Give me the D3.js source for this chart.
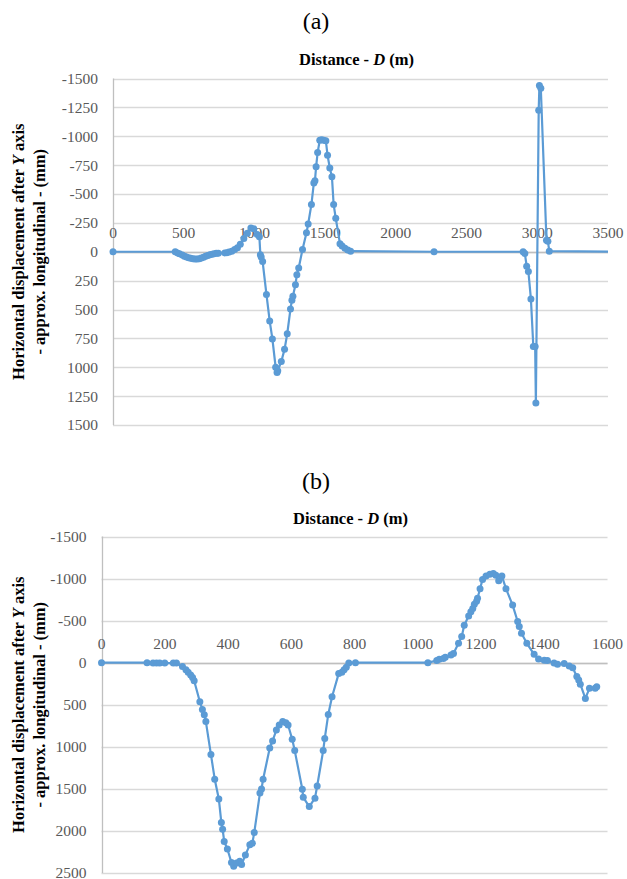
<!DOCTYPE html>
<html>
<head>
<meta charset="utf-8">
<script src="https://cdn.jsdelivr.net/npm/d3@7/dist/d3.min.js"></script>
<style>
  html, body { margin: 0; padding: 0; background: #ffffff; }
  svg { display: block; }
</style>
</head>
<body>
<script>
// ---------- DATA ----------
// Chart (a)
const aDistance = [0,440,455,470,490,505,520,535,550,565,580,595,610,625,640,655,670,685,700,715,730,745,
  790,805,820,840,860,880,900,925,950,975,995,1020,1035,1042,1048,1058,1085,1108,1127,1150,1160,1165,
  1190,1213,1232,1255,1265,1272,1290,1300,1313,1340,1368,1380,1403,1420,1428,1436,1447,1462,1475,1490,
  1505,1517,1533,1548,1560,1575,1605,1620,1640,1660,1680,2270,2900,2912,2925,2937,2955,2972,2985,2990,
  3010,3015,3025,3065,3075,3085,3520];
const aDisplacement = [0,0,10,18,28,38,45,52,57,60,62,62,60,55,48,40,33,27,22,18,14,12,
  10,8,3,-5,-20,-35,-65,-115,-160,-205,-200,-150,-130,25,45,85,370,600,755,1000,1045,1030,
  950,845,710,495,420,385,285,200,140,-20,-165,-240,-410,-595,-615,-735,-860,-965,-970,-965,
  -962,-835,-725,-650,-410,-290,-70,-50,-30,-15,-5,0,0,15,125,170,410,820,820,1310,
  -1225,-1440,-1415,-100,-90,-5,0];
const aXTicks = [0,500,1000,1500,2000,2500,3000,3500];
const aYTicks = [-1500,-1250,-1000,-750,-500,-250,0,250,500,750,1000,1250,1500];

// Chart (b)
const bDistance = [0,144,163,174,184,200,227,237,256,267,274,282,288,293,311,319,325,330,346,358,371,379,
  383,388,398,411,418,427,437,443,455,469,477,483,501,506,511,532,541,553,562,573,583,590,603,611,635,
  638,657,675,682,701,706,717,729,750,760,767,774,782,803,1032,1060,1068,1081,1087,1105,1113,1129,1139,
  1147,1161,1168,1174,1179,1186,1189,1197,1205,1216,1228,1239,1247,1256,1266,1279,1300,1316,1321,1328,
  1345,1368,1382,1400,1410,1431,1442,1463,1479,1490,1503,1509,1514,1530,1543,1561,1566];
const bDisplacement = [0,0,5,5,5,5,5,5,45,85,115,145,175,215,465,555,620,700,1090,1385,1620,1900,
  1980,2125,2215,2375,2420,2380,2360,2400,2285,2165,2145,2020,1550,1500,1385,1015,930,800,740,700,715,
  740,910,1045,1505,1600,1710,1610,1465,1045,900,615,405,130,115,85,55,5,0,0,-25,-40,-50,-65,-90,-110,
  -230,-310,-445,-555,-605,-645,-695,-730,-765,-880,-990,-1030,-1050,-1060,-1040,-975,-1030,-880,-685,
  -490,-430,-350,-230,-100,-45,-30,-25,5,20,10,40,60,165,205,255,425,305,305,285];
const bXTicks = [0,200,400,600,800,1000,1200,1400,1600];
const bYTicks = [-1500,-1000,-500,0,500,1000,1500,2000,2500];

const panelLabels = ["(a)", "(b)"];
const xTitle = ["Distance - ", "D", " (m)"];
const yTitle1 = ["Horizontal displacement after ", "Y", " axis"];
const yTitle2 = "- approx. longitudinal - (mm)";

// ---------- DRAW ----------
const FONT = "'Liberation Serif', Tinos, 'Times New Roman', 'DejaVu Serif', serif";
const W = 627, H = 879;
const svg = d3.select("body").append("svg").attr("width", W).attr("height", H)
  .style("font-family", FONT);
const lineColor = "#5B9BD5";

function drawChart(cfg) {
  const x = d3.scaleLinear().domain(cfg.xDomain).range([cfg.left, cfg.right]);
  const y = d3.scaleLinear().domain(cfg.yDomain).range([cfg.top, cfg.bottom]);
  const g = svg.append("g");

  // panel label
  g.append("text").attr("x", 316).attr("y", cfg.labelY)
    .attr("font-family", FONT)
    .attr("text-anchor", "middle").attr("font-size", 24).attr("fill", "#000")
    .text(cfg.label);

  // chart title
  const t = g.append("text").attr("x", (cfg.left + cfg.right) / 2 - 4).attr("y", cfg.titleY)
    .attr("font-family", FONT)
    .attr("text-anchor", "middle").attr("font-size", 16.5).attr("font-weight", "bold").attr("fill", "#000");
  t.append("tspan").text(xTitle[0]);
  t.append("tspan").attr("font-style", "italic").text(xTitle[1]);
  t.append("tspan").text(xTitle[2]);

  // gridlines
  g.append("g").selectAll("line").data(cfg.yTicks).join("line")
    .attr("x1", cfg.left).attr("x2", cfg.right)
    .attr("y1", d => Math.round(y(d)) + 0.5).attr("y2", d => Math.round(y(d)) + 0.5)
    .attr("stroke", "#d9d9d9").attr("stroke-width", 1.3);

  // left axis line
  g.append("line").attr("x1", Math.round(cfg.left) + 0.5).attr("x2", Math.round(cfg.left) + 0.5)
    .attr("y1", y(cfg.yDomain[0])).attr("y2", y(cfg.yDomain[1]))
    .attr("stroke", "#bfbfbf").attr("stroke-width", 1.3);

  // zero axis line
  g.append("line").attr("x1", cfg.left).attr("x2", cfg.right)
    .attr("y1", Math.round(y(0)) + 0.5).attr("y2", Math.round(y(0)) + 0.5)
    .attr("stroke", "#bfbfbf").attr("stroke-width", 1.3);

  // y tick labels
  g.append("g").selectAll("text").data(cfg.yTicks).join("text")
    .attr("font-family", FONT)
    .attr("x", cfg.left - 15).attr("y", d => y(d)).attr("dy", "0.35em")
    .attr("text-anchor", "end").attr("font-size", 15.5).attr("fill", "#595959")
    .text(d => d);

  // x tick labels (above the zero axis)
  g.append("g").selectAll("text").data(cfg.xTicks).join("text")
    .attr("font-family", FONT)
    .attr("x", d => x(d)).attr("y", y(0) - 14)
    .attr("text-anchor", "middle").attr("font-size", 15.5).attr("fill", "#595959")
    .text(d => d);

  // y axis title
  const cy = (cfg.top + cfg.bottom) / 2;
  const yt = g.append("text").attr("transform", `translate(24,${cy}) rotate(-90)`)
    .attr("font-family", FONT)
    .attr("text-anchor", "middle").attr("font-size", 16.5).attr("font-weight", "bold").attr("fill", "#000");
  yt.append("tspan").text(yTitle1[0]);
  yt.append("tspan").attr("font-style", "italic").text(yTitle1[1]);
  yt.append("tspan").text(yTitle1[2]);
  g.append("text").attr("transform", `translate(45,${cy}) rotate(-90)`)
    .attr("font-family", FONT)
    .attr("text-anchor", "middle").attr("font-size", 16.5).attr("font-weight", "bold").attr("fill", "#000")
    .text(yTitle2);

  // clip
  const clipId = "clip" + cfg.label.replace(/[()]/g, "");
  svg.append("clipPath").attr("id", clipId).append("rect")
    .attr("x", cfg.left - 6).attr("y", cfg.top - 10)
    .attr("width", cfg.right - cfg.left + 6).attr("height", cfg.bottom - cfg.top + 20);

  const pts = cfg.xs.map((d, i) => [d, cfg.ys[i]]);
  const data = g.append("g").attr("clip-path", `url(#${clipId})`);
  data.append("path").datum(pts)
    .attr("fill", "none").attr("stroke", lineColor).attr("stroke-width", 2.2)
    .attr("stroke-linejoin", "round")
    .attr("d", d3.line().x(d => x(d[0])).y(d => y(d[1])));
  data.append("g").selectAll("circle").data(pts.filter(d => d[0] <= cfg.xDomain[1])).join("circle")
    .attr("cx", d => x(d[0])).attr("cy", d => y(d[1])).attr("r", 3.5)
    .attr("fill", lineColor);
}

drawChart({
  label: panelLabels[0], labelY: 29, titleY: 65,
  xDomain: [0, 3500], yDomain: [-1500, 1500],
  left: 113, right: 608, top: 78.5, bottom: 425,
  xTicks: aXTicks, yTicks: aYTicks, xs: aDistance, ys: aDisplacement
});
drawChart({
  label: panelLabels[1], labelY: 489, titleY: 524,
  xDomain: [0, 1600], yDomain: [-1500, 2500],
  left: 101.5, right: 607.5, top: 536.5, bottom: 873,
  xTicks: bXTicks, yTicks: bYTicks, xs: bDistance, ys: bDisplacement
});
</script>
</body>
</html>
